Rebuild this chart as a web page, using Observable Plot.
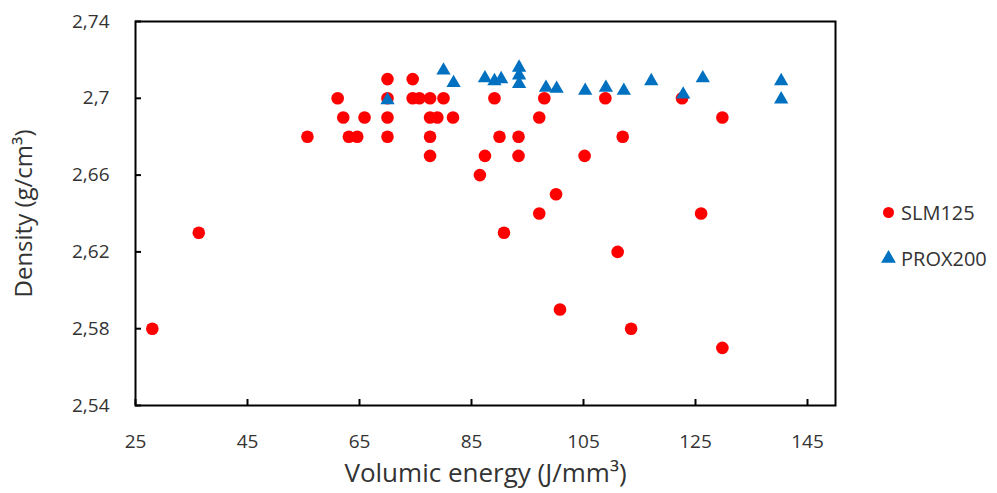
<!DOCTYPE html>
<html>
<head>
<meta charset="utf-8">
<script src="https://cdn.jsdelivr.net/npm/d3@7"></script>
<script src="https://cdn.jsdelivr.net/npm/@observablehq/plot@0.6"></script>
<style>
  body { margin: 0; background: #fff; }
  #wrap { position: relative; width: 997px; height: 493px; font-family: "Open Sans", sans-serif; }
  #legend { position: absolute; left: 880px; top: 199px; font-size: 20px; color: #333; }
  #legend .row { display: flex; align-items: center; height: 26px; margin-bottom: 20px; }
  #legend svg { margin-right: 4px; }
</style>
</head>
<body>
<div id="wrap"><div id="chart"></div><div id="legend"></div></div>
<script>
// ---- data ----
const seriesNames = ["SLM125", "PROX200"];
const seriesColors = ["#FF0000", "#0070C0"];
const seriesSymbols = ["circle", "triangle"];

const slmEnergy = [28.0, 36.3, 55.7, 61.1, 62.1, 63.1, 64.6, 65.9, 70, 70, 70, 70,
  74.5, 74.5, 75.7, 77.6, 77.6, 78.9, 77.6, 77.6, 80.0, 81.7, 86.5, 87.4, 89.1, 90.0,
  90.8, 93.4, 93.4, 97.1, 97.1, 98.0, 100.1, 100.8, 105.2, 108.9, 111.1, 112.0, 113.5,
  122.6, 126.0, 129.8, 129.8];
const slmDensity = [2.58, 2.63, 2.68, 2.70, 2.69, 2.68, 2.68, 2.69, 2.71, 2.70, 2.69, 2.68,
  2.71, 2.70, 2.70, 2.70, 2.69, 2.69, 2.68, 2.67, 2.70, 2.69, 2.66, 2.67, 2.70, 2.68,
  2.63, 2.68, 2.67, 2.69, 2.64, 2.70, 2.65, 2.59, 2.67, 2.70, 2.62, 2.68, 2.58,
  2.70, 2.64, 2.69, 2.57];

const proxEnergy = [70, 80.0, 81.8, 87.4, 89.1, 90.3, 93.5, 93.5, 93.5, 98.3, 100.2,
  105.3, 109.0, 112.2, 117.1, 122.8, 126.3, 140.3, 140.3];
const proxDensity = [2.699, 2.7145, 2.708, 2.7105, 2.709, 2.710, 2.716, 2.712, 2.7075, 2.7055, 2.705,
  2.704, 2.7055, 2.704, 2.709, 2.702, 2.7105, 2.709, 2.6995];

const xTicks = [25, 45, 65, 85, 105, 125, 145];
const yTicks = [2.54, 2.58, 2.62, 2.66, 2.70, 2.74];
const xDomain = [25, 150];
const yDomain = [2.54, 2.74];
const xTitle = "Volumic energy (J/mm³)";
const yTitle = "Density (g/cm³)";

// ---- build table ----
const slm = slmEnergy.map((e, i) => ({series: seriesNames[0], energy: e, density: slmDensity[i]}));
const prox = proxEnergy.map((e, i) => ({series: seriesNames[1], energy: e, density: proxDensity[i]}));
const fmtY = d => String(+d.toFixed(2)).replace(".", ",");

const chart = Plot.plot({
  width: 997,
  height: 493,
  marginLeft: 135,
  marginRight: 162,
  marginTop: 21,
  marginBottom: 88,
  style: {fontFamily: "Open Sans, sans-serif", fontSize: "19px", color: "#333", background: "#fff"},
  x: {domain: xDomain},
  y: {domain: yDomain},
  marks: [
    Plot.dot(slm, {x: "energy", y: "density", r: 6.3, fill: seriesColors[0], symbol: seriesSymbols[0]}),
    Plot.dot(prox, {x: "energy", y: "density", r: 5.3, fill: seriesColors[1], symbol: seriesSymbols[1]}),
    Plot.frame({stroke: "#000", strokeWidth: 2}),
    // inward tick marks
    Plot.axisX({ticks: xTicks, tickSize: -6, fill: "none", stroke: "#000", strokeWidth: 2, label: null}),
    Plot.axisY({ticks: yTicks, tickSize: -6, fill: "none", stroke: "#000", strokeWidth: 2, label: null}),
    // tick labels
    Plot.axisX({ticks: xTicks, tickSize: 0, tickPadding: 29, tickFormat: d => String(d), label: null, fontSize: 19}),
    Plot.axisY({ticks: yTicks, tickSize: 0, tickPadding: 26, tickFormat: fmtY, label: null, fontSize: 19}),
    // axis titles
    Plot.axisX({ticks: [], tickSize: 0, label: xTitle, labelAnchor: "center", labelArrow: "none", labelOffset: 76, fontSize: 26}),
    Plot.axisY({ticks: [], tickSize: 0, label: yTitle, labelAnchor: "center", labelArrow: "none", labelOffset: 121, fontSize: 24})
  ]
});
document.getElementById("chart").appendChild(chart);

// ---- legend ----
const legend = d3.select("#legend");
seriesNames.forEach((name, i) => {
  const row = legend.append("div").attr("class", "row");
  const svg = row.append("svg").attr("width", 17).attr("height", 17);
  const area = Math.PI * 5.5 * 5.5;
  svg.append("path")
    .attr("transform", "translate(8.5,8.5)")
    .attr("d", d3.symbol(i === 0 ? d3.symbolCircle : d3.symbolTriangle, area)())
    .attr("fill", seriesColors[i]);
  row.append("span").text(name);
});
</script>
</body>
</html>
